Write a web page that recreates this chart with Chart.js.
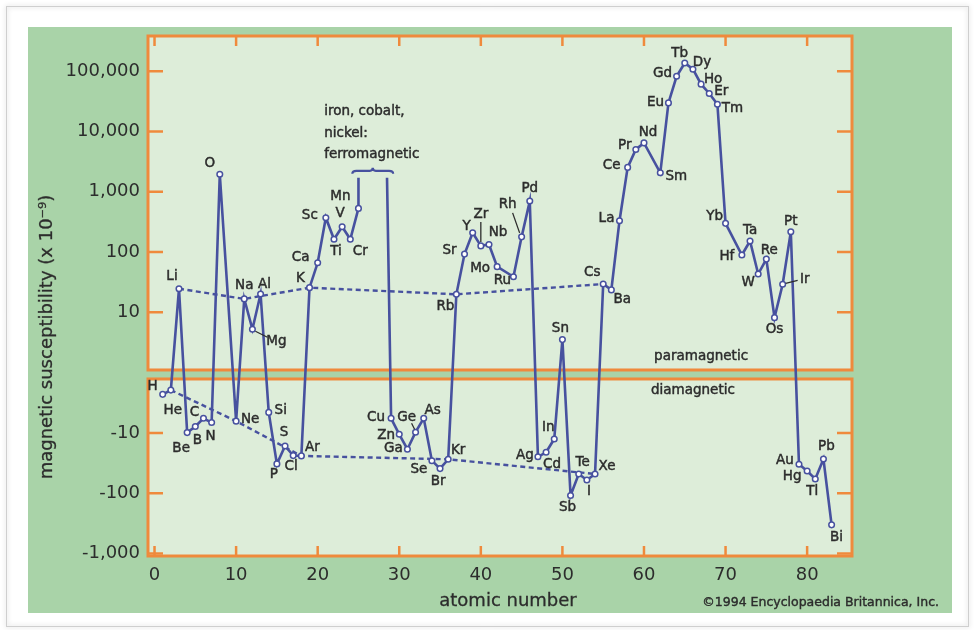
<!DOCTYPE html>
<html>
<head>
<meta charset="utf-8">
<script src="https://cdn.jsdelivr.net/npm/chart.js@4.4.1/dist/chart.umd.min.js"></script>
<style>
  html, body { margin: 0; padding: 0; background: #ffffff; }
  canvas { display: block; }
</style>
</head>
<body>
<canvas id="chart" width="975" height="630"></canvas>
<script>
// ---- data: magnetic susceptibility of the elements (x 10^-9) ----
const atomicNumbers = [
  1, 2, 3, 4, 5, 6, 7, 8, 10, 11, 12, 13, 14, 15, 16, 17, 18, 19, 20, 21, 22, 23, 24, 25,
  29, 30, 31, 32, 33, 34, 35, 36, 37, 38, 39, 40, 41, 42, 44, 45, 46, 47, 48, 49, 50,
  51, 52, 53, 54, 55, 56, 57, 58, 59, 60, 62, 63, 64, 65, 66, 67, 68, 69, 70,
  72, 73, 74, 75, 76, 77, 78, 79, 80, 81, 82, 83
];
const symbols = [
  'H', 'He', 'Li', 'Be', 'B', 'C', 'N', 'O', 'Ne', 'Na', 'Mg', 'Al', 'Si', 'P', 'S', 'Cl', 'Ar', 'K', 'Ca', 'Sc', 'Ti', 'V', 'Cr', 'Mn',
  'Cu', 'Zn', 'Ga', 'Ge', 'As', 'Se', 'Br', 'Kr', 'Rb', 'Sr', 'Y', 'Zr', 'Nb', 'Mo', 'Ru', 'Rh', 'Pd', 'Ag', 'Cd', 'In', 'Sn',
  'Sb', 'Te', 'I', 'Xe', 'Cs', 'Ba', 'La', 'Ce', 'Pr', 'Nd', 'Sm', 'Eu', 'Gd', 'Tb', 'Dy', 'Ho', 'Er', 'Tm', 'Yb',
  'Hf', 'Ta', 'W', 'Re', 'Os', 'Ir', 'Pt', 'Au', 'Hg', 'Tl', 'Pb', 'Bi'
];
const susceptibility = [
  -2.28, -1.94, 24.5, -9.85, -7.8, -5.7, -6.7, 1950, -6.35, 16.6, 5.2, 20, -4.55, -32.6, -16.4, -23.7, -24, 25.5, 66, 370, 162, 262, 162, 528,
  -5.7, -10.5, -18.6, -9.7, -5.7, -28.8, -39, -27.3, 19.8, 92, 208, 126, 133, 57, 38.7, 178, 700, -24.8, -20.9, -12.6, 3.5,
  -109, -47.9, -60.3, -47.9, 29.3, 23.4, 330, 2530, 5030, 6460, 2060, 29800, 82500, 137000, 108000, 61000, 42700, 28300, 298,
  89, 152, 43, 76, 8.1, 29, 216, -33, -42.7, -57.9, -27, -335
];

// dotted guide lines through the alkali metals and the noble gases
const alkaliMetals = ['Li', 'Na', 'K', 'Rb', 'Cs'];
const nobleGases = ['He', 'Ne', 'Ar', 'Kr', 'Xe'];

// iron, cobalt and nickel run off the scale (ferromagnetic)
const ferroZ = [25, 28.5];
const ferroLevel = 1700;
const ferroNote = ['iron, cobalt,', 'nickel:', 'ferromagnetic'];

// axis ticks
const xTickValues = [0, 10, 20, 30, 40, 50, 60, 70, 80];
const yTickValues = [100000, 10000, 1000, 100, 10, -10, -100, -1000];

// ---- split logarithmic axis: paramagnetic panel above, diamagnetic panel below ----
const TOP_LOG_MIN = 0.04, TOP_LOG_MAX = 5.585;
const BOT_LOG_MIN = 0.103, BOT_LOG_MAX = 3.042;
const GAP = 0.1494;
function toAxis(v) {
  if (v === null) return null;
  return v > 0 ? Math.log10(v) : TOP_LOG_MIN - GAP - (Math.log10(-v) - BOT_LOG_MIN);
}
const Y_MIN = TOP_LOG_MIN - GAP - (BOT_LOG_MAX - BOT_LOG_MIN);

// ---- colours & fonts ----
const PAGE_GREEN = '#a9d3a8';
const PANEL_BG = '#ddedd9';
const ORANGE = '#ef8a3c';
const LINE_BLUE = '#47519f';
const TEXT = '#2c2c2c';
const FONT = 'DejaVu Sans';

// ---- label placement (offset of each symbol from its point, px) ----
const labelOffsets = {
  H: [-10, -8], He: [2, 20], Li: [-7, -12], Be: [-6, 16], B: [2, 14], C: [-9, -6], N: [-1, 14], O: [-10, -11],
  Ne: [14, -2], Na: [0, -13], Mg: [24, 12], Al: [4, -10], Si: [12, -2], P: [-3, 11], S: [-1, -13], Cl: [-2, 11],
  Ar: [11, -8], K: [-9, -9], Ca: [-17, -5], Sc: [-16, -2], Ti: [2, 12], V: [-2, -13], Cr: [10, 12], Mn: [-18, -12],
  Cu: [-15, -1], Zn: [-13, 1], Ga: [-14, -1], Ge: [-9, -15], As: [9, -8], Se: [-13, 9], Br: [-2, 13], Kr: [10, -9],
  Rb: [-11, 12], Sr: [-15, -4], Y: [-6, -6], Zr: [0, -31], Nb: [9, -12], Mo: [-17, 2], Ru: [-11, 4], Rh: [-14, -32],
  Pd: [0, -13], Ag: [-13, -1], Cd: [6, 12], In: [-6, -12], Sn: [-2, -11], Sb: [-3, 12], Te: [4, -11], I: [2, 11],
  Xe: [12, -7], Cs: [-11, -12], Ba: [11, 10], La: [-13, -2], Ce: [-16, -2], Pr: [-11, -4], Nd: [4, -10], Sm: [16, 4],
  Eu: [-13, 0], Gd: [-14, -3], Tb: [-5, -10], Dy: [9, -7], Ho: [12, -5], Er: [12, -2], Tm: [15, 4], Yb: [-11, -7],
  Hf: [-15, 2], Ta: [0, -10], W: [-10, 8], Re: [3, -9], Os: [0, 12], Ir: [22, -5], Pt: [0, -10], Au: [-14, -4],
  Hg: [-15, 6], Tl: [-3, 13], Pb: [3, -12], Bi: [5, 13]
};
// short leader strokes joining a few labels to their points
const leaders = {
  Mg: [[3, 2], [15, 8]],
  Ge: [[-4, -9], [-1, -3]],
  Zr: [[0, -24], [0, -4]],
  Rh: [[-9, -24], [-2, -4]],
  Ir: [[3, -1], [15, -4]]
};

// ---- datasets ----
const mainData = [];
atomicNumbers.forEach((z, i) => {
  mainData.push({ x: z, y: toAxis(susceptibility[i]), sym: symbols[i] });
  if (symbols[i] === 'Mn') {
    mainData.push({ x: ferroZ[0], y: toAxis(ferroLevel) });
    mainData.push({ x: (ferroZ[0] + ferroZ[1]) / 2, y: null });
    mainData.push({ x: ferroZ[1], y: toAxis(ferroLevel) });
  }
});
function guide(group) {
  return group.map(s => {
    const i = symbols.indexOf(s);
    return { x: atomicNumbers[i], y: toAxis(susceptibility[i]) };
  });
}

const fmt = v => v.toLocaleString('en-US');

// text with a faint outline so it reads a little heavier
function heavyText(ctx, str, x, y) {
  ctx.strokeText(str, x, y);
  ctx.fillText(str, x, y);
}

// ---- drawing helpers ----
const framePlugin = {
  id: 'frames',
  beforeDraw(chart) {
    const ctx = chart.ctx;
    ctx.save();
    ctx.fillStyle = '#ffffff';
    ctx.fillRect(0, 0, chart.width, chart.height);
    ctx.shadowColor = 'rgba(0,0,0,0.25)';
    ctx.shadowBlur = 5;
    ctx.strokeStyle = '#cfcfcf';
    ctx.lineWidth = 1;
    ctx.strokeRect(6.5, 6.5, chart.width - 13, chart.height - 10);
    ctx.shadowBlur = 0;
    ctx.shadowColor = 'transparent';
    ctx.fillStyle = PAGE_GREEN;
    ctx.fillRect(28, 27, 924, 586);
    ctx.restore();
  },
  beforeDatasetsDraw(chart) {
    const { ctx, chartArea: a, scales: { x, y } } = chart;
    const topPanelBottom = y.getPixelForValue(TOP_LOG_MIN);
    const botPanelTop = y.getPixelForValue(TOP_LOG_MIN - GAP);
    const panels = [[a.top, topPanelBottom], [botPanelTop, a.bottom]];
    ctx.save();
    ctx.fillStyle = PANEL_BG;
    panels.forEach(([t, b]) => ctx.fillRect(a.left, t, a.right - a.left, b - t));
    ctx.strokeStyle = ORANGE;
    ctx.lineWidth = 3;
    panels.forEach(([t, b]) => ctx.strokeRect(a.left, t, a.right - a.left, b - t));
    // inward tick marks
    ctx.lineWidth = 2.5;
    ctx.beginPath();
    y.ticks.forEach(t => {
      const py = y.getPixelForValue(t.value);
      ctx.moveTo(a.left, py); ctx.lineTo(a.left + 15, py);
      ctx.moveTo(a.right, py); ctx.lineTo(a.right - 15, py);
    });
    x.ticks.forEach(t => {
      const px = x.getPixelForValue(t.value);
      if (px <= a.left + 3) return;
      ctx.moveTo(px, a.top); ctx.lineTo(px, a.top + 10);
      ctx.moveTo(px, a.bottom); ctx.lineTo(px, a.bottom - 10);
    });
    ctx.stroke();
    ctx.restore();
  },
  afterDatasetsDraw(chart) {
    const { ctx, chartArea: a, scales: { x, y } } = chart;
    const meta = chart.getDatasetMeta(0);
    ctx.save();
    ctx.fillStyle = TEXT;
    ctx.font = '13.5px "' + FONT + '"';
    ctx.textAlign = 'center';
    ctx.textBaseline = 'middle';
    meta.data.forEach((pt, i) => {
      const raw = mainData[i];
      if (!raw.sym) return;
      const off = labelOffsets[raw.sym] || [0, -12];
      ctx.strokeStyle = TEXT;
      ctx.lineWidth = 0.45;
      heavyText(ctx, raw.sym, pt.x + off[0], pt.y + off[1]);
      const ld = leaders[raw.sym];
      if (ld) {
        ctx.lineWidth = 1.3;
        ctx.beginPath();
        ctx.moveTo(pt.x + ld[0][0], pt.y + ld[0][1]);
        ctx.lineTo(pt.x + ld[1][0], pt.y + ld[1][1]);
        ctx.stroke();
      }
    });

    // brace over the ferromagnetic run
    const bx0 = x.getPixelForValue(ferroZ[0] - 0.75);
    const bx1 = x.getPixelForValue(ferroZ[1] + 0.75);
    const by = y.getPixelForValue(toAxis(ferroLevel)) - 7;
    const bm = (bx0 + bx1) / 2;
    ctx.strokeStyle = LINE_BLUE;
    ctx.lineWidth = 2.2;
    ctx.beginPath();
    ctx.moveTo(bx0, by + 3);
    ctx.quadraticCurveTo(bx0, by, bx0 + 4, by);
    ctx.lineTo(bm - 3, by);
    ctx.quadraticCurveTo(bm, by, bm, by - 3);
    ctx.quadraticCurveTo(bm, by, bm + 3, by);
    ctx.lineTo(bx1 - 4, by);
    ctx.quadraticCurveTo(bx1, by, bx1, by + 3);
    ctx.stroke();

    ctx.fillStyle = TEXT;
    ctx.strokeStyle = TEXT;
    ctx.lineWidth = 0.45;
    ctx.textAlign = 'left';
    const nx = x.getPixelForValue(20.8);
    [-59, -37, -16].forEach((dy, k) => heavyText(ctx, ferroNote[k], nx, by + dy));

    // panel captions
    ctx.textAlign = 'center';
    heavyText(ctx, 'paramagnetic', x.getPixelForValue(67), y.getPixelForValue(TOP_LOG_MIN) - 13);
    heavyText(ctx, 'diamagnetic', x.getPixelForValue(66), y.getPixelForValue(TOP_LOG_MIN - GAP) + 12);

    // axis titles
    ctx.font = '18px "' + FONT + '"';
    ctx.lineWidth = 0.3;
    heavyText(ctx, 'atomic number', 508, 601);
    ctx.save();
    ctx.translate(47, 337);
    ctx.rotate(-Math.PI / 2);
    heavyText(ctx, 'magnetic susceptibility (x 10\u207B\u2079)', 0, 0);
    ctx.restore();

    // credit line
    ctx.font = '12.5px "' + FONT + '"';
    ctx.lineWidth = 0.4;
    ctx.textAlign = 'right';
    heavyText(ctx, '\u00A91994 Encyclopaedia Britannica, Inc.', 939, 603);
    ctx.restore();
  }
};

Chart.defaults.font.family = FONT;

new Chart(document.getElementById('chart'), {
  type: 'line',
  data: {
    datasets: [
      {
        data: mainData,
        borderColor: LINE_BLUE,
        borderWidth: 2.6,
        pointRadius: ctx => (ctx.raw && ctx.raw.sym ? 2.8 : 0),
        pointBorderWidth: 1.5,
        pointBackgroundColor: '#ffffff',
        pointBorderColor: LINE_BLUE,
        spanGaps: false,
        tension: 0,
        order: 0
      },
      {
        data: guide(alkaliMetals),
        borderColor: LINE_BLUE,
        borderWidth: 2.4,
        borderDash: [5, 3.5],
        pointRadius: 0,
        tension: 0,
        order: 1
      },
      {
        data: guide(nobleGases),
        borderColor: LINE_BLUE,
        borderWidth: 2.4,
        borderDash: [5, 3.5],
        pointRadius: 0,
        tension: 0,
        order: 1
      }
    ]
  },
  options: {
    responsive: false,
    animation: false,
    devicePixelRatio: 1,
    layout: { padding: { left: 20, right: 123, top: 36, bottom: 10 } },
    plugins: { legend: { display: false }, tooltip: { enabled: false } },
    scales: {
      x: {
        type: 'linear',
        min: -0.8,
        max: 85.5,
        grid: { display: false, drawTicks: false },
        border: { display: false },
        afterBuildTicks: s => { s.ticks = xTickValues.map(v => ({ value: v })); },
        ticks: { padding: 9, color: TEXT, font: { size: 18 }, autoSkip: false, maxRotation: 0,
                 callback: (v, i) => String(xTickValues[i]) },
        afterFit: s => { s.height = 64; }
      },
      y: {
        type: 'linear',
        min: Y_MIN,
        max: TOP_LOG_MAX,
        grid: { display: false, drawTicks: false },
        border: { display: false },
        afterBuildTicks: s => { s.ticks = yTickValues.map(v => ({ value: toAxis(v) })); },
        ticks: { padding: 8, color: TEXT, font: { size: 18 }, autoSkip: false,
                 callback: (v, i) => fmt(yTickValues[i]) },
        afterFit: s => { s.width = 128; }
      }
    }
  },
  plugins: [framePlugin]
});
</script>
</body>
</html>
